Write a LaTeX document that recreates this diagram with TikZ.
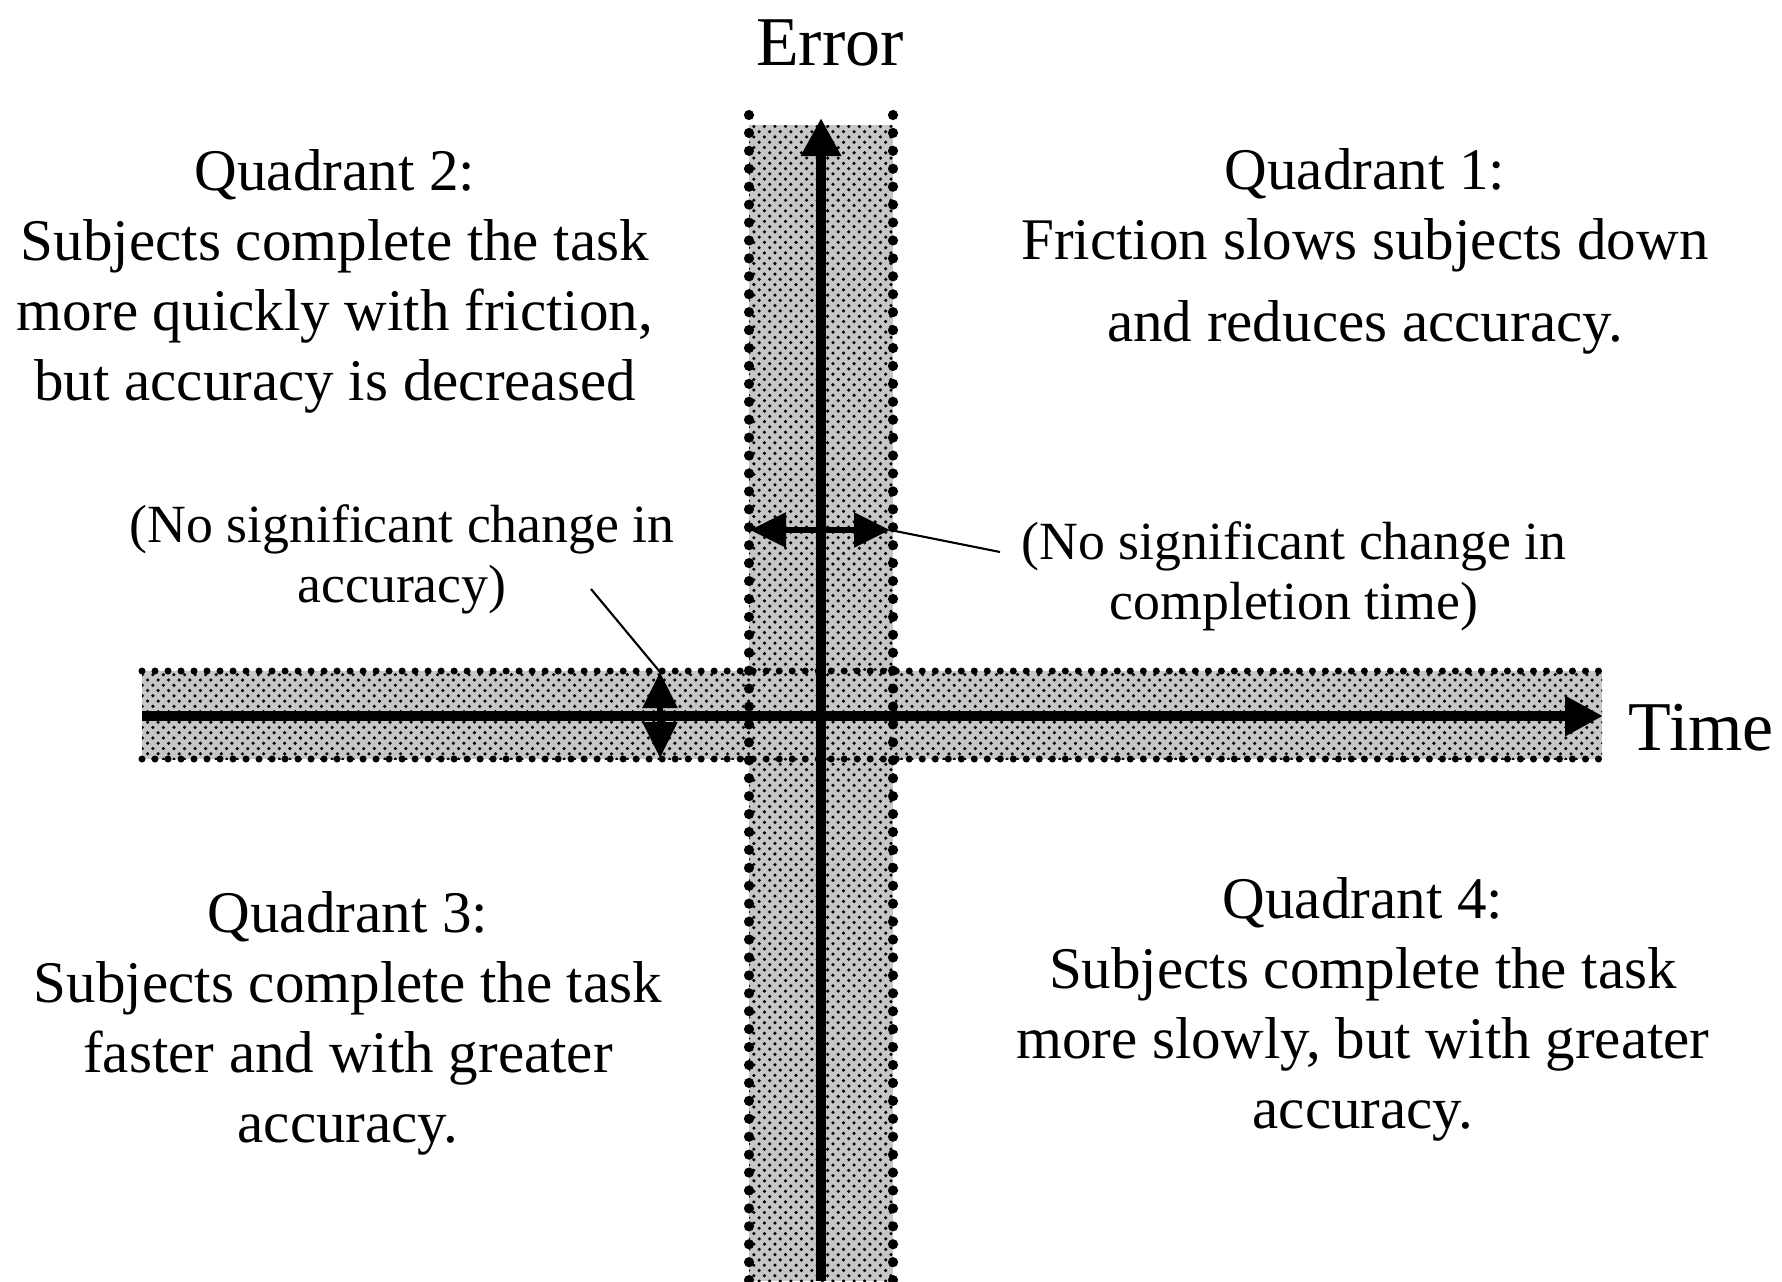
\documentclass[tikz,border=0pt]{standalone}
\usepackage{fontspec}
\setmainfont{Liberation Serif}
\usetikzlibrary{patterns, arrows.meta}

\tikzset{
	quadtext/.style={align=center, anchor=base, inner sep=0pt, font=\fontsize{16.8}{19.9}\selectfont},
	notetext/.style={align=center, anchor=base, inner sep=0pt, font=\fontsize{15.3}{16.8}\selectfont},
	axistext/.style={inner sep=0pt, font=\fontsize{19.9}{23}\selectfont},
	band/.style={draw=none, fill=gray!45, postaction={pattern=crosshatch dots}},
	vedge/.style={line width=2.9pt, dash pattern=on 0pt off 5.1pt, line cap=round},
	hedge/.style={line width=2pt, dash pattern=on 0pt off 3.7pt, line cap=round},
	axis/.style={line width=2.7pt, arrows={-Triangle[length=0.38cm, width=0.38cm]}},
	change/.style={line width=1.6pt, arrows={Triangle[length=0.36cm, width=0.34cm]-Triangle[length=0.36cm, width=0.34cm]}},
	leader/.style={line width=0.6pt}
}

\begin{document}
\begin{tikzpicture}
	\useasboundingbox (0,0) rectangle (17.82,-12.81);

	\coordinate (Ybot) at (8.21, -12.81);
	\coordinate (Ytop) at (8.21, -1.18);
	\coordinate (Xl) at (1.42, -7.16);
	\coordinate (Xr) at (16.03, -7.16);

%	shaded bands round the axes
	\fill [band] (7.49, -1.25) rectangle (8.93, -12.81);
	\fill [band] (1.42, -6.71) rectangle (16.02, -7.59);
	\draw [vedge] (7.49, -1.15) -- (7.49, -12.81);
	\draw [vedge] (8.93, -1.15) -- (8.93, -12.81);
	\draw [hedge] (1.42, -6.71) -- (16.02, -6.71);
	\draw [hedge] (1.42, -7.59) -- (16.02, -7.59);

	\draw [axis] (Ybot) -- (Ytop);
	\draw [axis] (Xl) -- (Xr);
	\node [axistext, anchor=base] (error) at (8.30, -0.65) {Error};
	\node [axistext, anchor=base west] (time) at (16.28, -7.50) {Time};

%	base of a node is the baseline of its last line
	\node [quadtext] (q2) at (3.35, -4.00) {Quadrant 2:\\ Subjects complete the task\\ more quickly with friction,\\ but accuracy is decreased};
	\node [quadtext] (q1) at (13.65, -3.41) {Quadrant 1:\\ Friction slows subjects down\\[3.4pt] and reduces accuracy.};
	\node [quadtext] (q3) at (3.48, -11.42) {Quadrant 3:\\ Subjects complete the task\\ faster and with greater\\ accuracy.};
	\node [quadtext] (q4) at (13.63, -11.28) {Quadrant 4:\\ Subjects complete the task\\ more slowly, but with greater\\ accuracy.};

%	no significant change
	\coordinate (tL) at (7.50, -5.30);
	\coordinate (tR) at (8.90, -5.30);
	\coordinate (aT) at (6.60, -6.72);
	\coordinate (aB) at (6.60, -7.58);
	\coordinate (tLead) at (10.00, -5.52);
	\coordinate (aLead) at (5.91, -5.89);
	\draw [change] (tL) -- (tR);
	\draw [change] (aT) -- (aB);
	\draw [leader] (tR) -- (tLead);
	\draw [leader] (aLead) -- (aT);
	\node [notetext] (accnote) at (4.02, -6.02) {(No significant change in\\ accuracy)};
	\node [notetext] (timenote) at (12.94, -6.19) {(No significant change in\\ completion time)};
\end{tikzpicture}
\end{document}
